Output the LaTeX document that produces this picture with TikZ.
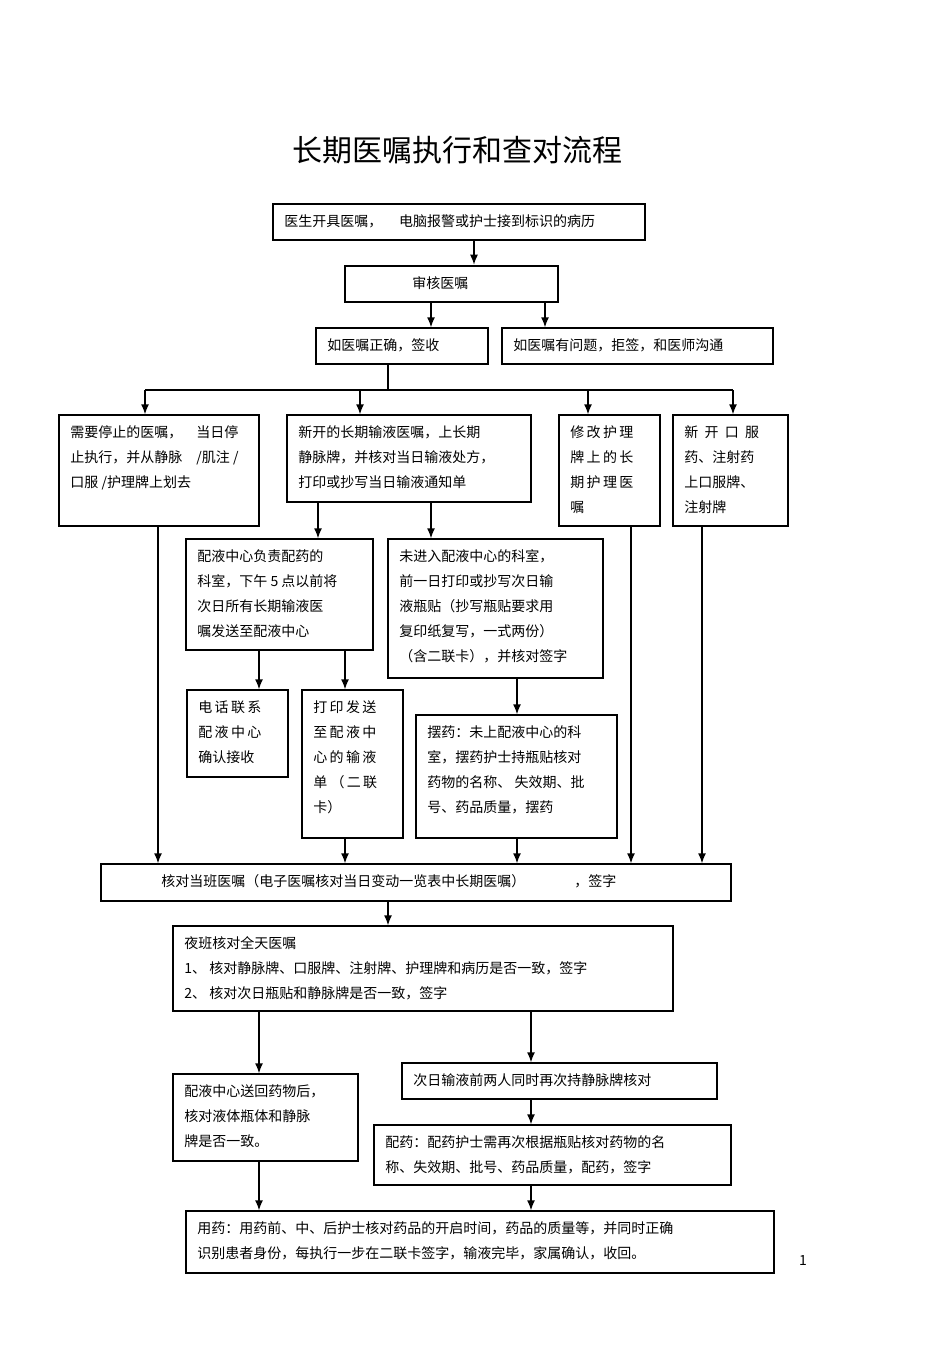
\documentclass[tikz,border=0pt]{standalone}
\usepackage{fontspec}
\setmainfont{Noto Sans CJK SC}
\usetikzlibrary{arrows.meta,calc}
\tikzset{
 box/.style={draw,line width=0.7pt,inner sep=0pt},
 txt/.style={inner sep=0pt,align=left,font=\fontsize{7}{12.5}\selectfont},
 arr/.style={line width=0.7pt,-{Latex[length=5pt,width=4pt]}},
 ln/.style={line width=0.7pt}
}
\newcommand\bx[7][0.7pt]{%
 \pgfmathsetmacro\bw{(#5-#3)*0.5}\pgfmathsetmacro\bh{(#6-#4)*0.5}%
 \node[box,line width=#1,minimum width=\bw pt,minimum height=\bh pt] (#2) at ({(#3+#5)/2},{(#4+#6)/2}) {};%
 \node[txt,anchor=north west] at (#3+11,#4+10) {#7};}
\begin{document}
\begin{tikzpicture}[x=0.5pt,y=-0.5pt]
\useasboundingbox (0,0) rectangle (950,1345);
\node[font=\fontsize{15}{18}\selectfont] (title) at (457,150) {长期医嘱执行和查对流程};
\foreach \v in {145,158,259,318,345,360,388,431,474,517,531,545,588,631,702,733}{\coordinate (x\v) at (\v,0);}
\bx{top}{273}{204}{645}{240}{医生开具医嘱，\hspace{1.2em}电脑报警或护士接到标识的病历}
\bx[1.3pt]{sh}{345}{266}{558}{302}{\hspace{4em}审核医嘱}
\bx{ok}{316}{328}{488}{364}{如医嘱正确，签收}
\bx{bad}{502}{328}{773}{364}{如医嘱有问题，拒签，和医师沟通}
\bx{A}{59}{415}{259}{526}{需要停止的医嘱，\hspace{1em}当日停\\止执行，并从静脉\hspace{1em}/肌注 /\\口服 /护理牌上划去}
\bx{B}{287}{415}{531}{502}{新开的长期输液医嘱，上长期\\静脉牌，并核对当日输液处方，\\打印或抄写当日输液通知单}
\bx{C}{559}{415}{660}{526}{修\,改\,护\,理\\牌\,上\,的\,长\\期\,护\,理\,医\\嘱}
\bx{D}{673}{415}{788}{526}{新\ \ 开\ \ 口\ \ 服\\药、注射药\\上口服牌、\\注射牌}
\bx{E}{186}{539}{373}{650}{配液中心负责配药的\\科室，下午 5 点以前将\\次日所有长期输液医\\嘱发送至配液中心}
\bx{F}{388}{539}{603}{678}{未进入配液中心的科室，\\前一日打印或抄写次日输\\液瓶贴（抄写瓶贴要求用\\复印纸复写，一式两份）\\（含二联卡），并核对签字}
\bx{G}{187}{690}{288}{777}{电\,话\,联\,系\\配\,液\,中\,心\\确认接收}
\bx{H}{302}{690}{403}{838}{打\,印\,发\,送\\至\,配\,液\,中\\心\,的\,输\,液\\单\ （\,二\,联\\卡）}
\bx{I}{416}{715}{617}{838}{摆药：未上配液中心的科\\室，摆药护士持瓶贴核对\\药物的名称、\ 失效期、批\\号、药品质量，摆药}
\bx{J}{101}{864}{731}{901}{\hspace{3.5em}核对当班医嘱（电子医嘱核对当日变动一览表中长期医嘱）\hspace{3.5em}，签字}
\bx{K}{173}{926}{673}{1011}{夜班核对全天医嘱\\1、\ 核对静脉牌、口服牌、注射牌、护理牌和病历是否一致，签字\\2、\ 核对次日瓶贴和静脉牌是否一致，签字}
\bx{L}{173}{1074}{358}{1161}{配液中心送回药物后，\\核对液体瓶体和静脉\\牌是否一致。}
\bx{M}{402}{1063}{717}{1099}{次日输液前两人同时再次持静脉牌核对}
\bx{N}{374}{1125}{731}{1185}{配药：配药护士需再次根据瓶贴核对药物的名\\称、失效期、批号、药品质量，配药，签字}
\bx{O}{186}{1211}{774}{1273}{用药：用药前、中、后护士核对药品的开启时间，药品的质量等，并同时正确\\识别患者身份，每执行一步在二联卡签字，输液完毕，家属确认，收回。}
\node[txt] (pg) at (803,1260) {1};
\draw[arr] (top.south -| x474) -- (sh.north -| x474);
\draw[arr] (sh.south -| x431) -- (ok.north -| x431);
\draw[arr] (sh.south -| x545) -- (bad.north -| x545);
\coordinate (bus) at (388,390);
\draw[ln] (ok.south -| x388) -- (bus);
\draw[ln] (bus -| x145) -- (bus -| x733);
\foreach \n/\v in {A/145,B/360,C/588,D/733}{\draw[arr] (bus -| x\v) -- (\n.north -| x\v);}
\draw[arr] (B.south -| x318) -- (E.north -| x318);
\draw[arr] (B.south -| x431) -- (F.north -| x431);
\draw[arr] (E.south -| x259) -- (G.north -| x259);
\draw[arr] (E.south -| x345) -- (H.north -| x345);
\draw[arr] (F.south -| x517) -- (I.north -| x517);
\draw[arr] (A.south -| x158) -- (J.north -| x158);
\draw[arr] (H.south -| x345) -- (J.north -| x345);
\draw[arr] (I.south -| x517) -- (J.north -| x517);
\draw[arr] (C.south -| x631) -- (J.north -| x631);
\draw[arr] (D.south -| x702) -- (J.north -| x702);
\draw[arr] (J.south -| x388) -- (K.north -| x388);
\draw[arr] (K.south -| x259) -- (L.north -| x259);
\draw[arr] (K.south -| x531) -- (M.north -| x531);
\draw[arr] (M.south -| x531) -- (N.north -| x531);
\draw[arr] (L.south -| x259) -- (O.north -| x259);
\draw[arr] (N.south -| x531) -- (O.north -| x531);
\end{tikzpicture}
\end{document}
